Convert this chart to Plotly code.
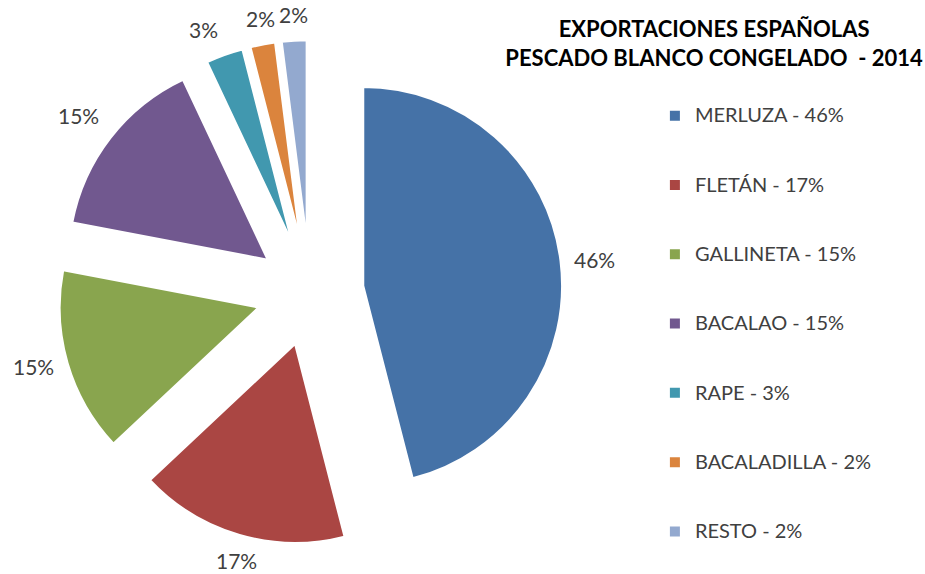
import math
import plotly.graph_objects as go

especies = ["MERLUZA", "FLETÁN", "GALLINETA", "BACALAO", "RAPE", "BACALADILLA", "RESTO"]
porcentajes = [46, 17, 15, 15, 3, 2, 2]
colores = ["#4572A7", "#AA4643", "#89A54E", "#71588F", "#4198AF", "#DB843D", "#93A9CF"]

W, H = 925, 574
dom_x = [0.0622, 0.6081]
dom_y = [0.0505, 0.9303]
tirar = 0.27

# leyenda: lineas vacias arriba y abajo para separar las entradas
etiquetas = [f"<br><span style='font-size:20px'>{e} - {p}%</span><br> "
             for e, p in zip(especies, porcentajes)]

fig = go.Figure(go.Pie(
    labels=etiquetas,
    values=porcentajes,
    marker=dict(colors=colores, line=dict(color="white", width=2)),
    sort=False,
    direction="clockwise",
    rotation=0,
    pull=[tirar] * len(porcentajes),
    textinfo="none",
    domain=dict(x=dom_x, y=dom_y),
    hoverinfo="label+percent",
))

# etiquetas de porcentaje fuera de cada porcion (como "extremo externo" de Excel)
cx = (dom_x[0] + dom_x[1]) / 2
cy = (dom_y[0] + dom_y[1]) / 2
lado = min((dom_x[1] - dom_x[0]) * W, (dom_y[1] - dom_y[0]) * H)
radio = lado / (2 + 2 * tirar)
dist = radio * (1 + tirar) + 12
total = sum(porcentajes)
acum = 0
for p in porcentajes:
    ang = 2 * math.pi * (acum + p / 2) / total
    acum += p
    s, c = math.sin(ang), math.cos(ang)
    xa = "left" if s > 0.3 else ("right" if s < -0.3 else "center")
    ya = "bottom" if c > 0.3 else ("top" if c < -0.3 else "middle")
    fig.add_annotation(
        x=cx + dist * s / W,
        y=cy + dist * c / H,
        xref="paper", yref="paper",
        xanchor=xa, yanchor=ya,
        text=f"{p}%", showarrow=False,
        font=dict(size=21, color="#404040", family="Lato"),
    )

fig.update_layout(
    width=W, height=H,
    margin=dict(l=0, r=0, t=0, b=0, autoexpand=False),
    paper_bgcolor="white",
    font=dict(family="Lato", color="#404040"),
    title=dict(
        text="<b>EXPORTACIONES ESPAÑOLAS<br>PESCADO BLANCO CONGELADO  - 2014</b>",
        x=0.772, xanchor="center", y=0.935, yanchor="middle",
        font=dict(size=22, color="black", family="Lato"),
    ),
    legend=dict(
        x=0.708, y=0.4355, xanchor="left", yanchor="middle",
        font=dict(size=17, color="#404040"),
        valign="middle",
    ),
)

fig.write_html("out.html", config={"displayModeBar": False},
               post_script="document.body.style.margin='0';")
